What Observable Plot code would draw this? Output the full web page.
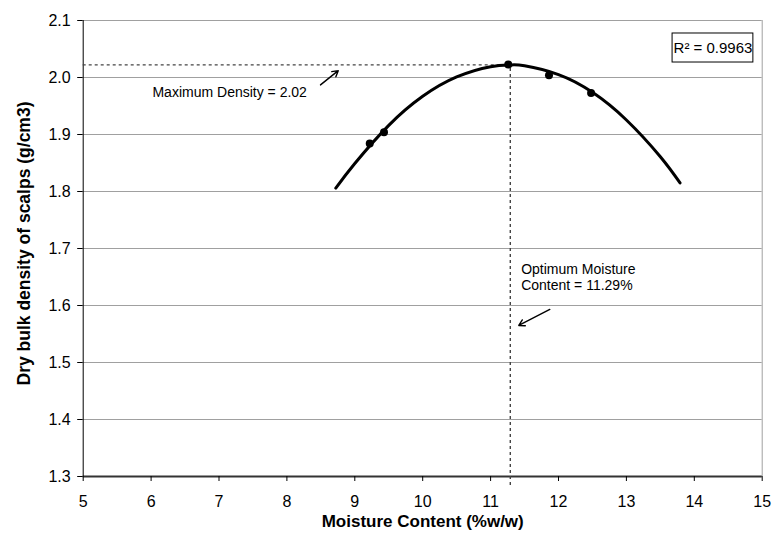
<!DOCTYPE html>
<html>
<head>
<meta charset="utf-8">
<script src="https://cdn.jsdelivr.net/npm/d3@7"></script>
<script src="https://cdn.jsdelivr.net/npm/@observablehq/plot@0.6"></script>
<style>
  html, body { margin: 0; padding: 0; background: #fff; }
  #chart svg { display: block; }
</style>
</head>
<body>
<div id="chart"></div>
<script>
// ---- data ----
const xTicks = [5, 6, 7, 8, 9, 10, 11, 12, 13, 14, 15];
const yTicks = [1.3, 1.4, 1.5, 1.6, 1.7, 1.8, 1.9, 2.0, 2.1];

// measured points
const pointX = [9.22, 9.43, 11.26, 11.86, 12.48];
const pointY = [1.884, 1.904, 2.023, 2.004, 1.973];

// fitted trend line
const curveX = [8.72, 9.0, 9.5, 10.0, 10.5, 11.0, 11.29, 11.5, 12.0, 12.5, 13.0, 13.5, 13.79];
const curveY = [1.806, 1.849, 1.916, 1.967, 2.001, 2.019, 2.022, 2.0205, 2.005, 1.974, 1.9255, 1.861, 1.815];

// annotation values
const maxDensity = 2.022;
const optMoisture = 11.29;
const belowAxisY = 1.284;
const labelTexts = ["Maximum Density = 2.02", "Optimum Moisture\nContent = 11.29%"];
const labelX = [6.02, 11.45];
const labelY = [1.974, 1.650];
const arrowX1 = [8.495, 11.872];
const arrowY1 = [1.987, 1.593];
const arrowX2 = [8.756, 11.415];
const arrowY2 = [2.012, 1.565];
const r2Text = "R\u00B2 = 0.9963";
const r2Box = {x1: 13.68, x2: 14.87, y1: 2.0772, y2: 2.0263};

const xTitle = "Moisture Content (%w/w)";
const yTitle = "Dry bulk density of scalps (g/cm3)";

// ---- tables built from arrays ----
const points = pointX.map((x, i) => ({x, y: pointY[i]}));
const curve = curveX.map((x, i) => ({x, y: curveY[i]}));
const labels = labelTexts.map((t, i) => ({t, x: labelX[i], y: labelY[i]}));
const arrows = arrowX1.map((x1, i) => ({x1, y1: arrowY1[i], x2: arrowX2[i], y2: arrowY2[i]}));

const font = "Arial, 'Liberation Sans', sans-serif";

const chart = Plot.plot({
  width: 781,
  height: 536,
  marginLeft: 82.7,
  marginRight: 19.3,
  marginTop: 20,
  marginBottom: 60,
  style: {fontFamily: font, background: "#fff", color: "#000"},
  x: {domain: [5, 15]},
  y: {domain: [1.3, 2.1]},
  marks: [
    Plot.gridY(yTicks, {stroke: "#a0a0a0", strokeOpacity: 1, strokeWidth: 1}),
    Plot.ruleX([15], {stroke: "#a0a0a0", strokeWidth: 1}),
    Plot.ruleY([1.3], {stroke: "#333", strokeWidth: 2}),
    Plot.ruleX([5], {stroke: "#000", strokeWidth: 1}),
    Plot.axisY(yTicks, {tickSize: 5.5, tickPadding: 7, fontSize: 16, tickFormat: d3.format(".1f"), label: null}),
    Plot.axisX(xTicks, {tickSize: 5, tickPadding: 14, fontSize: 16, label: null}),
    // dashed guide lines
    Plot.ruleY([maxDensity], {x1: 5, x2: optMoisture, stroke: "#444", strokeDasharray: "3,3", strokeWidth: 1.2}),
    Plot.ruleX([optMoisture], {y1: belowAxisY, y2: maxDensity, stroke: "#444", strokeDasharray: "3,3", strokeWidth: 1.4, clip: false}),
    // trend line and points
    Plot.line(curve, {x: "x", y: "y", stroke: "#000", strokeWidth: 3, curve: "natural"}),
    Plot.dot(points, {x: "x", y: "y", r: 4, fill: "#000", stroke: "none"}),
    // annotations
    Plot.arrow(arrows, {x1: "x1", y1: "y1", x2: "x2", y2: "y2", stroke: "#000", strokeWidth: 1.4, headLength: 7}),
    Plot.text(labels, {x: "x", y: "y", text: "t", textAnchor: "start", lineAnchor: "middle", fontSize: 14, lineHeight: 1.15, fill: "#000"}),
    Plot.rect([r2Box], {x1: "x1", x2: "x2", y1: "y1", y2: "y2", fill: "#fff", stroke: "#000", strokeWidth: 1}),
    Plot.text([r2Text], {x: (r2Box.x1 + r2Box.x2) / 2, y: (r2Box.y1 + r2Box.y2) / 2, text: d => d, fontSize: 15, fill: "#000"}),
    // axis titles
    Plot.text([xTitle], {frameAnchor: "bottom", dy: 50, text: d => d, fontSize: 17, fontWeight: "bold", fill: "#000"}),
    Plot.text([yTitle], {frameAnchor: "left", dx: -59, dy: -5, rotate: -90, textAnchor: "middle", text: d => d, fontSize: 17.5, fontWeight: "bold", fill: "#000"})
  ]
});

d3.select(chart).selectAll('g[aria-label$="tick label"]').attr("font-size", 16);
d3.select(chart).selectAll('g[aria-label$="tick label"] text').attr("font-size", 16);

document.getElementById("chart").appendChild(chart);
</script>
</body>
</html>
